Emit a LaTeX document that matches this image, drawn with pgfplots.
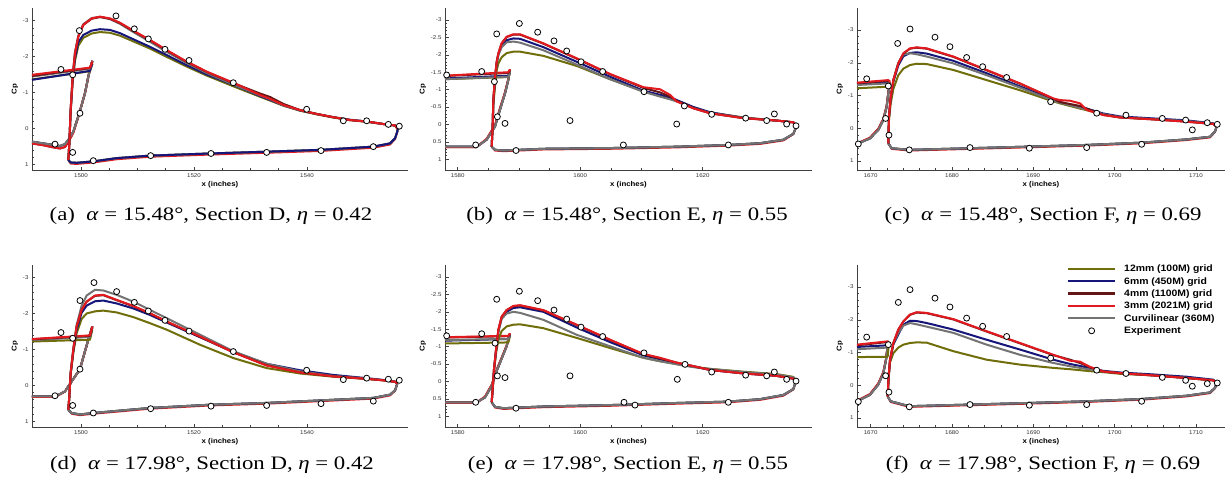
\documentclass[border=0pt]{standalone}
\usepackage{pgfplots}
\pgfplotsset{compat=1.18}
\usepackage{pgfplotstable}
\usepackage{fontspec}
\setmainfont{Liberation Serif}
\newfontfamily\capf[FakeStretch=1.2]{Liberation Serif}
\newfontfamily\sansf[FakeStretch=1.12]{Liberation Sans}
\newcommand\tickf{\sansf\fontsize{5.5}{6}\selectfont}
\newcommand\labf{\sansf\bfseries\fontsize{7}{8}\selectfont}
\newcommand\legf{\sansf\bfseries\fontsize{9.3}{10}\selectfont}
\newcommand\capfs{\capf\fontsize{19}{22}\selectfont}
\definecolor{olc}{RGB}{112,110,10}
\definecolor{blc}{RGB}{22,22,122}
\definecolor{drc}{RGB}{100,22,22}
\definecolor{rec}{RGB}{226,26,32}
\definecolor{grc}{RGB}{115,115,115}

% ---------------- Panel A ----------------
\pgfplotstableread{
x ol bl gr dr re
1497.76 0.88 0.88 0.88 0.88 0.88
1497.94 0.42 0.42 0.42 0.42 0.42
1498.17 -0.45 -0.47 -0.53 -0.51 -0.51
1498.53 -1.30 -1.35 -1.47 -1.44 -1.44
1498.94 -1.88 -1.95 -2.12 -2.09 -2.09
1499.53 -2.30 -2.40 -2.58 -2.55 -2.55
1500.41 -2.52 -2.60 -2.90 -2.88 -2.88
1501.89 -2.64 -2.72 -3.07 -3.05 -3.06
1503.36 -2.68 -2.76 -3.10 -3.10 -3.11
1505.13 -2.66 -2.74 -3.04 -3.05 -3.06
1506.90 -2.58 -2.65 -2.91 -2.93 -2.94
1509.26 -2.42 -2.48 -2.68 -2.71 -2.72
1512.21 -2.22 -2.27 -2.41 -2.45 -2.46
1515.16 -1.99 -2.04 -2.13 -2.17 -2.18
1518.70 -1.72 -1.76 -1.82 -1.85 -1.86
1522.24 -1.47 -1.50 -1.54 -1.57 -1.58
1526.96 -1.17 -1.21 -1.22 -1.26 -1.27
1531.68 -0.88 -0.90 -0.92 -0.97 -0.93
1533.50 -0.77 -0.79 -0.81 -0.87 -0.82
1535.81 -0.63 -0.64 -0.64 -0.68 -0.65
1538.76 -0.49 -0.50 -0.50 -0.51 -0.51
1541.71 -0.39 -0.40 -0.40 -0.40 -0.40
1544.66 -0.30 -0.31 -0.31 -0.31 -0.31
1547.61 -0.23 -0.24 -0.23 -0.23 -0.23
1550.56 -0.18 -0.19 -0.19 -0.19 -0.19
1553.51 -0.12 -0.12 -0.12 -0.12 -0.12
1555.58 -0.08 -0.08 -0.08 -0.08 -0.08
1555.99 0.00 0.00 0.00 0.00 0.00
}\upA
\pgfplotstableread{
x y r
1497.76 0.88 0.88
1498.17 0.95 0.98
1499.23 0.96 0.99
1502.18 0.92 0.95
1506.31 0.83 0.86
1512.21 0.76 0.79
1522.83 0.70 0.73
1532.86 0.65 0.68
1542.30 0.60 0.63
1551.74 0.51 0.54
1554.69 0.42 0.45
1555.58 0.28 0.30
1555.99 0.09 0.09
1556.05 0.00 0.00
}\loA
\pgfplotstableread{
x c1 c2
1491.33 0.37 0.42
1493.33 0.42 0.47
1495.10 0.46 0.53
1496.28 0.49 0.56
1497.17 0.44 0.52
1497.94 0.28 0.33
1498.64 0.09 0.12
1499.71 -0.42 -0.42
1500.71 -0.98 -0.98
1501.30 -1.44 -1.44
1501.71 -1.72 -1.72
1502.01 -1.88 -1.88
}\slA
\pgfplotstableread{
x ol bl gr dr re
1491.33 -1.36 -1.35 -1.44 -1.46 -1.49
1501.59 -1.59 -1.60 -1.66 -1.68 -1.69
1502.01 -1.80 -1.80 -1.85 -1.84 -1.86
}\suA
\pgfplotstableread{
x y
1499.71 -2.72
1506.19 -3.13
1509.44 -2.77
1511.92 -2.49
1514.87 -2.20
1519.12 -1.89
1526.96 -1.27
1539.94 -0.53
1546.43 -0.21
1550.56 -0.21
1554.40 -0.11
1556.34 -0.06
1496.46 -1.64
1498.53 -1.49
1499.82 -0.42
1495.40 0.44
1498.53 0.67
1502.18 0.90
1512.33 0.76
1523.01 0.70
1532.86 0.67
1542.48 0.62
1551.74 0.51
}\exA

% ---------------- Panel B ----------------
\pgfplotstableread{
x ol bl gr dr re
1585.55 0.64 0.64 0.64 0.64 0.64
1585.71 0.10 0.07 0.06 0.06 0.06
1585.82 -0.55 -0.65 -0.70 -0.70 -0.70
1586.10 -1.10 -1.30 -1.35 -1.37 -1.37
1586.37 -1.55 -1.75 -1.78 -1.80 -1.80
1586.64 -1.75 -2.00 -2.00 -2.04 -2.04
1587.18 -1.93 -2.25 -2.22 -2.33 -2.33
1588.00 -2.05 -2.42 -2.36 -2.51 -2.52
1589.09 -2.09 -2.47 -2.38 -2.58 -2.59
1590.18 -2.09 -2.46 -2.35 -2.58 -2.59
1593.99 -1.97 -2.22 -2.13 -2.32 -2.33
1599.43 -1.68 -1.80 -1.72 -1.89 -1.90
1604.87 -1.30 -1.37 -1.30 -1.44 -1.45
1610.31 -0.95 -0.97 -0.94 -1.05 -1.07
1613.03 -0.82 -0.85 -0.80 -0.92 -1.01
1614.67 -0.74 -0.78 -0.72 -0.80 -0.85
1615.76 -0.68 -0.70 -0.66 -0.68 -0.66
1618.48 -0.49 -0.50 -0.47 -0.47 -0.46
1621.20 -0.34 -0.35 -0.33 -0.32 -0.32
1626.64 -0.20 -0.19 -0.19 -0.18 -0.18
1632.08 -0.11 -0.11 -0.11 -0.11 -0.11
1634.80 -0.06 -0.06 -0.06 -0.06 -0.06
1635.35 0.04 0.04 0.04 0.04 0.04
}\upB
\pgfplotstableread{
x y r
1585.55 0.64 0.64
1586.10 0.73 0.75
1587.46 0.75 0.77
1593.99 0.70 0.72
1604.87 0.68 0.70
1615.76 0.64 0.66
1624.19 0.59 0.61
1629.36 0.54 0.56
1633.17 0.44 0.46
1634.80 0.27 0.28
1635.35 0.04 0.04
}\loB
\pgfplotstableread{
x c1 c2
1577.93 0.64 0.65
1583.10 0.64 0.65
1584.73 0.44 0.42
1586.10 0.06 0.02
1586.91 -0.42 -0.46
1587.73 -0.89 -0.92
1588.27 -1.28 -1.30
1588.54 -1.56 -1.58
}\slB
\pgfplotstableread{
x ol bl gr dr re
1577.93 -1.30 -1.32 -1.30 -1.39 -1.40
1588.27 -1.36 -1.40 -1.37 -1.48 -1.50
1588.54 -1.52 -1.52 -1.52 -1.56 -1.58
}\suB
\pgfplotstableread{
x y
1578.20 -1.42
1583.92 -1.52
1585.99 -1.23
1586.37 -2.60
1590.07 -2.90
1593.06 -2.65
1595.73 -2.40
1597.80 -2.11
1600.14 -1.80
1603.67 -1.52
1610.42 -0.94
1617.01 -0.53
1621.47 -0.29
1627.02 -0.18
1630.45 -0.11
1631.70 -0.30
1633.71 -0.01
1635.24 0.04
1586.48 -0.22
1587.73 -0.03
1598.34 -0.11
1615.76 -0.01
1607.05 0.59
1589.52 0.75
1582.94 0.59
1624.19 0.59
}\exB

% ---------------- Panel C ----------------
\pgfplotstableread{
x ol bl gr dr re
1672.17 0.46 0.46 0.46 0.46 0.46
1672.25 -0.25 -0.33 -0.35 -0.35 -0.35
1672.46 -0.75 -0.93 -0.95 -0.96 -0.96
1672.79 -1.20 -1.42 -1.47 -1.47 -1.47
1673.40 -1.62 -1.92 -2.00 -1.98 -1.98
1674.02 -1.82 -2.20 -2.25 -2.28 -2.29
1674.84 -1.93 -2.30 -2.29 -2.43 -2.44
1675.66 -1.97 -2.32 -2.26 -2.46 -2.47
1676.89 -1.96 -2.28 -2.19 -2.43 -2.44
1680.16 -1.78 -2.06 -1.98 -2.18 -2.19
1684.26 -1.47 -1.68 -1.62 -1.77 -1.78
1688.36 -1.16 -1.28 -1.24 -1.36 -1.37
1692.46 -0.82 -0.86 -0.84 -0.90 -0.91
1693.28 -0.76 -0.80 -0.78 -0.80 -0.86
1694.51 -0.68 -0.72 -0.70 -0.74 -0.84
1695.74 -0.60 -0.65 -0.62 -0.68 -0.76
1696.56 -0.55 -0.60 -0.57 -0.60 -0.56
1698.61 -0.42 -0.45 -0.43 -0.41 -0.40
1700.66 -0.33 -0.36 -0.34 -0.33 -0.33
1704.75 -0.28 -0.30 -0.28 -0.27 -0.27
1708.85 -0.22 -0.24 -0.22 -0.20 -0.20
1712.13 -0.14 -0.15 -0.14 -0.13 -0.13
1712.54 -0.05 -0.05 -0.05 -0.05 -0.05
}\upC
\pgfplotstableread{
x y r
1672.17 0.46 0.46
1672.58 0.61 0.63
1674.75 0.66 0.68
1682.21 0.61 0.63
1689.59 0.56 0.58
1696.56 0.51 0.53
1703.32 0.44 0.46
1708.85 0.34 0.36
1711.72 0.26 0.28
1712.34 0.10 0.11
1712.54 -0.05 -0.05
}\loC
\pgfplotstableread{
x c1 c2
1668.32 0.48 0.47
1669.92 0.31 0.29
1670.94 0.05 0.02
1671.56 -0.25 -0.28
1671.97 -0.66 -0.68
1672.17 -1.07 -1.08
1672.38 -1.37 -1.40
}\slC
\pgfplotstableread{
x ol bl gr dr re
1668.32 -1.22 -1.35 -1.32 -1.38 -1.39
1672.17 -1.27 -1.40 -1.37 -1.45 -1.47
1672.38 -1.37 -1.40 -1.40 -1.42 -1.42
}\suC
\pgfplotstableread{
x y
1669.51 -1.51
1672.17 -1.29
1673.32 -2.59
1674.84 -3.03
1677.91 -2.78
1679.75 -2.49
1681.80 -2.16
1683.77 -1.88
1686.72 -1.55
1692.13 -0.81
1697.79 -0.46
1701.39 -0.40
1705.86 -0.30
1708.73 -0.25
1709.55 0.05
1711.39 -0.17
1712.62 -0.12
1671.84 -0.30
1672.25 0.21
1668.48 0.48
1674.75 0.66
1682.21 0.59
1689.51 0.61
1696.56 0.59
1703.32 0.49
}\exC

% ---------------- Panel D ----------------
\pgfplotstableread{
x ol bl gr dr re
1497.76 0.68 0.68 0.68 0.68 0.68
1497.94 0.31 0.31 0.31 0.31 0.31
1498.17 -0.30 -0.32 -0.35 -0.34 -0.34
1498.64 -0.90 -0.95 -1.02 -0.99 -0.99
1499.23 -1.45 -1.55 -1.68 -1.64 -1.64
1500.12 -1.85 -2.02 -2.22 -2.10 -2.10
1501.00 -2.00 -2.22 -2.50 -2.33 -2.33
1502.48 -2.06 -2.34 -2.66 -2.49 -2.50
1503.95 -2.08 -2.36 -2.64 -2.51 -2.52
1506.31 -2.03 -2.28 -2.52 -2.37 -2.38
1509.26 -1.90 -2.14 -2.33 -2.20 -2.21
1512.21 -1.73 -1.96 -2.10 -2.00 -2.01
1515.16 -1.55 -1.75 -1.87 -1.77 -1.78
1521.06 -1.13 -1.34 -1.41 -1.35 -1.36
1526.96 -0.76 -0.93 -0.95 -0.92 -0.92
1532.86 -0.48 -0.60 -0.60 -0.56 -0.55
1538.76 -0.33 -0.42 -0.39 -0.36 -0.36
1544.66 -0.24 -0.29 -0.26 -0.25 -0.25
1550.56 -0.18 -0.20 -0.19 -0.18 -0.18
1553.51 -0.14 -0.15 -0.14 -0.14 -0.14
1555.58 -0.10 -0.10 -0.10 -0.10 -0.10
1555.99 -0.05 -0.05 -0.05 -0.05 -0.05
}\upD
\pgfplotstableread{
x y r
1497.76 0.68 0.68
1498.35 0.77 0.79
1499.82 0.81 0.83
1502.18 0.77 0.79
1512.21 0.63 0.65
1522.83 0.54 0.56
1532.86 0.49 0.51
1542.30 0.42 0.44
1551.74 0.35 0.37
1554.69 0.26 0.28
1555.58 0.14 0.15
1555.99 -0.05 -0.05
}\loD
\pgfplotstableread{
x c1 c2
1491.33 0.31 0.32
1494.51 0.31 0.32
1495.69 0.29 0.30
1497.17 0.17 0.17
1498.35 -0.11 -0.11
1499.82 -0.45 -0.45
1500.71 -0.95 -0.95
1501.47 -1.36 -1.36
1502.01 -1.64 -1.64
}\slD
\pgfplotstableread{
x ol bl gr dr re
1491.33 -1.22 -1.27 -1.26 -1.28 -1.29
1501.59 -1.27 -1.36 -1.35 -1.38 -1.39
1502.01 -1.55 -1.60 -1.62 -1.62 -1.64
}\suD
\pgfplotstableread{
x y
1496.46 -1.47
1498.53 -1.31
1499.82 -2.36
1502.30 -2.86
1506.31 -2.61
1509.44 -2.31
1511.92 -2.07
1514.87 -1.81
1519.12 -1.51
1526.96 -0.94
1539.94 -0.42
1546.43 -0.16
1550.56 -0.20
1554.40 -0.17
1556.34 -0.14
1495.40 0.29
1499.82 -0.45
1498.53 0.56
1502.18 0.77
1512.33 0.65
1523.01 0.58
1532.86 0.56
1542.48 0.51
1551.74 0.44
}\exD

% ---------------- Panel E ----------------
\pgfplotstableread{
x ol bl gr dr re
1585.55 0.60 0.60 0.60 0.60 0.60
1585.71 0.25 0.23 0.22 0.22 0.22
1585.93 -0.30 -0.33 -0.33 -0.35 -0.35
1586.26 -0.80 -0.88 -0.88 -0.91 -0.91
1586.64 -1.20 -1.44 -1.42 -1.48 -1.48
1587.18 -1.45 -1.82 -1.80 -1.86 -1.86
1588.00 -1.58 -2.00 -1.95 -2.05 -2.05
1589.09 -1.63 -2.11 -2.00 -2.16 -2.17
1590.18 -1.64 -2.13 -1.97 -2.18 -2.19
1593.99 -1.53 -2.00 -1.77 -2.04 -2.05
1599.43 -1.25 -1.55 -1.34 -1.62 -1.63
1604.87 -0.96 -1.13 -1.01 -1.19 -1.20
1610.31 -0.68 -0.75 -0.68 -0.78 -0.79
1613.03 -0.58 -0.64 -0.58 -0.66 -0.68
1615.76 -0.50 -0.52 -0.49 -0.54 -0.54
1618.48 -0.42 -0.43 -0.41 -0.44 -0.44
1621.20 -0.36 -0.33 -0.36 -0.33 -0.33
1626.64 -0.28 -0.23 -0.27 -0.23 -0.23
1632.08 -0.21 -0.16 -0.20 -0.16 -0.16
1634.80 -0.13 -0.08 -0.12 -0.08 -0.08
1635.24 -0.01 -0.01 -0.01 -0.01 -0.01
}\upE
\pgfplotstableread{
x y r
1585.55 0.60 0.60
1586.10 0.73 0.75
1587.46 0.77 0.79
1593.99 0.72 0.74
1604.87 0.68 0.70
1615.76 0.62 0.64
1624.19 0.58 0.60
1629.36 0.51 0.53
1633.17 0.39 0.41
1634.80 0.22 0.23
1635.24 -0.01 -0.01
}\loE
\pgfplotstableread{
x c1 c2
1577.93 0.60 0.61
1583.10 0.60 0.61
1584.46 0.46 0.44
1585.55 0.13 0.10
1586.48 -0.35 -0.38
1587.35 -0.73 -0.75
1588.00 -1.01 -1.03
1588.44 -1.31 -1.33
1588.54 -1.36 -1.38
}\slE
\pgfplotstableread{
x ol bl gr dr re
1577.93 -1.09 -1.17 -1.19 -1.26 -1.27
1588.27 -1.12 -1.22 -1.22 -1.30 -1.31
1588.54 -1.30 -1.32 -1.32 -1.36 -1.38
}\suE
\pgfplotstableread{
x y
1578.20 -1.31
1583.92 -1.37
1586.10 -1.10
1586.37 -2.36
1590.07 -2.59
1593.06 -2.32
1595.73 -2.05
1597.80 -1.79
1600.14 -1.56
1603.67 -1.29
1610.42 -0.82
1617.12 -0.49
1621.47 -0.27
1627.02 -0.18
1630.45 -0.16
1631.70 -0.27
1633.71 -0.06
1635.24 -0.01
1586.48 -0.16
1587.73 -0.11
1598.34 -0.16
1615.86 -0.06
1582.94 0.60
1589.52 0.77
1607.16 0.60
1608.95 0.68
1624.19 0.60
}\exE

% ---------------- Panel F ----------------
\pgfplotstableread{
x ol bl gr dr re
1672.09 0.34 0.34 0.34 0.34 0.34
1672.21 -0.20 -0.27 -0.27 -0.27 -0.27
1672.38 -0.70 -0.76 -0.76 -0.78 -0.78
1672.79 -0.98 -1.25 -1.28 -1.29 -1.29
1673.40 -1.15 -1.55 -1.60 -1.70 -1.70
1674.02 -1.24 -1.85 -1.82 -1.95 -1.95
1674.84 -1.29 -1.97 -1.90 -2.15 -2.16
1675.66 -1.31 -1.96 -1.86 -2.22 -2.23
1676.89 -1.30 -1.90 -1.79 -2.20 -2.21
1680.16 -1.04 -1.70 -1.60 -2.01 -2.02
1684.26 -0.78 -1.39 -1.24 -1.64 -1.65
1688.36 -0.63 -1.09 -0.93 -1.28 -1.29
1692.46 -0.53 -0.78 -0.68 -0.92 -0.93
1694.51 -0.49 -0.65 -0.58 -0.78 -0.75
1695.74 -0.46 -0.59 -0.53 -0.68 -0.72
1696.97 -0.43 -0.52 -0.48 -0.55 -0.56
1698.61 -0.40 -0.44 -0.42 -0.42 -0.42
1700.66 -0.35 -0.39 -0.37 -0.37 -0.37
1704.75 -0.30 -0.33 -0.30 -0.30 -0.30
1708.85 -0.22 -0.26 -0.23 -0.22 -0.22
1712.13 -0.15 -0.17 -0.15 -0.15 -0.15
1712.54 -0.07 -0.07 -0.07 -0.07 -0.07
}\upF
\pgfplotstableread{
x y r
1672.09 0.34 0.34
1672.46 0.49 0.51
1674.75 0.64 0.66
1682.21 0.59 0.61
1689.59 0.54 0.56
1696.56 0.49 0.51
1703.32 0.42 0.44
1708.85 0.32 0.34
1711.72 0.22 0.24
1712.34 0.08 0.09
1712.54 -0.07 -0.07
}\loF
\pgfplotstableread{
x c1 c2
1668.32 0.49 0.48
1669.92 0.29 0.27
1670.94 -0.02 -0.05
1671.56 -0.37 -0.40
1671.89 -0.78 -0.80
1672.09 -1.19 -1.20
1672.25 -1.29 -1.31
}\slF
\pgfplotstableread{
x ol bl gr dr re
1668.32 -0.86 -1.17 -1.10 -1.22 -1.24
1672.09 -0.87 -1.22 -1.15 -1.32 -1.34
1672.25 -1.29 -1.29 -1.29 -1.31 -1.31
}\suF
\pgfplotstableread{
x y
1669.51 -1.47
1672.17 -1.24
1673.40 -2.53
1674.84 -2.92
1677.91 -2.66
1679.75 -2.39
1681.80 -2.05
1683.77 -1.80
1686.72 -1.49
1692.13 -0.83
1697.79 -0.46
1701.39 -0.36
1705.86 -0.24
1708.73 -0.15
1709.55 0.03
1711.39 -0.05
1712.62 -0.07
1671.84 -0.29
1672.25 0.21
1668.48 0.50
1674.75 0.66
1682.21 0.59
1689.51 0.61
1696.56 0.59
1703.32 0.49
}\exF

\pgfplotsset{
  cv/.style={line width=2pt, line join=round, forget plot},
  expm/.style={only marks, mark=*, mark size=3pt, mark options={fill=white, draw=black, line width=0.8pt}, forget plot},
  panel/.style={scale only axis, height=162pt, anchor=south west, y dir=reverse,
    axis x line*=bottom, axis y line*=left,
    axis line style={line width=0.7pt, black!75},
    tick align=inside, major tick length=3.5pt, minor tick length=2pt,
    every tick/.style={black!75, line width=0.5pt},
    tick label style={font=\tickf, black!80},
    /pgf/number format/assume math mode=true,
    /pgf/number format/1000 sep={},
    xlabel={x (inches)}, ylabel={Cp},
    label style={font=\labf},
    xlabel style={yshift=3pt}, ylabel style={yshift=-2pt},
    clip=false},
  secD/.style={panel, width=376pt, xmin=1491.33, xmax=1557.88, ymin=-3.35, ymax=1.16,
    xtick={1500,1520,1540}, ytick={-3,-2,-1,0,1}, minor x tick num=3, minor y tick num=4},
  secE/.style={panel, width=367pt, xmin=1577.93, xmax=1637.85, ymin=-3.345, ymax=1.31,
    xtick={1580,1600,1620}, ytick={-3,-2.5,-2,-1.5,-1,-0.5,0,0.5,1}, minor x tick num=3, minor y tick num=4},
  secF/.style={panel, width=368pt, xmin=1668.32, xmax=1713.57, ymin=-3.672, ymax=1.275,
    xtick={1670,1680,1690,1700,1710}, ytick={-3,-2,-1,0,1}, minor x tick num=4, minor y tick num=4},
}

% #1 upper, #2 lower, #3 slat lower, #4 slat upper, #5 exp, #6/#7 order of top lower-surface lines
\newcommand\drawpanel[7]{%
  \addplot[cv,olc] table[y=c1]{#3};
  \addplot[cv,blc] table[y=c1]{#3};
  \addplot[cv,drc] table[y=c2]{#3};
  \addplot[cv,rec] table[y=c2]{#3};
  \addplot[cv,grc] table[y=c1]{#3};
  \addplot[cv,olc] table[y=ol]{#4};
  \addplot[cv,blc] table[y=bl]{#4};
  \addplot[cv,grc] table[y=gr]{#4};
  \addplot[cv,drc] table[y=dr]{#4};
  \addplot[cv,rec] table[y=re]{#4};
  \addplot[cv,rec] table[y=r]{#2};
  \addplot[cv,olc] table[y=y]{#2};
  \addplot[cv,#6] table[y=y]{#2};
  \addplot[cv,#7] table[y=y]{#2};
  \addplot[cv,olc] table[y=ol]{#1};
  \addplot[cv,blc] table[y=bl]{#1};
  \addplot[cv,grc] table[y=gr]{#1};
  \addplot[cv,drc] table[y=dr]{#1};
  \addplot[cv,rec] table[y=re]{#1};
  \addplot[expm] table[x=x,y=y]{#5};
}

\begin{document}
\begin{tikzpicture}
\useasboundingbox (0,0) rectangle (1227pt,483pt);

\begin{axis}[secD, at={(32pt,313pt)}]
\drawpanel{\upA}{\loA}{\slA}{\suA}{\exA}{grc}{blc}
\end{axis}
\begin{axis}[secE, at={(445pt,313pt)}]
\drawpanel{\upB}{\loB}{\slB}{\suB}{\exB}{blc}{grc}
\end{axis}
\begin{axis}[secF, at={(857pt,313pt)}]
\drawpanel{\upC}{\loC}{\slC}{\suC}{\exC}{blc}{grc}
\end{axis}

\begin{axis}[secD, at={(32pt,56pt)}]
\drawpanel{\upD}{\loD}{\slD}{\suD}{\exD}{blc}{grc}
\end{axis}
\begin{axis}[secE, at={(445pt,56pt)}]
\drawpanel{\upE}{\loE}{\slE}{\suE}{\exE}{blc}{grc}
\end{axis}
\begin{axis}[secF, at={(857pt,56pt)},
  legend style={at={(0.5707,1.0074)}, anchor=north west, draw=none, fill=none,
    inner sep=0pt, outer sep=0pt, font=\legf, row sep=1.3pt,
    nodes={inner sep=1pt, text height=7pt, text depth=2pt},
    /tikz/every odd column/.append style={column sep=7pt}},
  legend cell align=left]
\addlegendimage{legend image code/.code={\draw[draw=olc, line width=2.2pt] (0pt,0.5pt) -- (47pt,0.5pt);}}\addlegendentry{12mm (100M) grid}
\addlegendimage{legend image code/.code={\draw[draw=blc, line width=2.2pt] (0pt,0.5pt) -- (47pt,0.5pt);}}\addlegendentry{6mm (450M) grid}
\addlegendimage{legend image code/.code={\draw[draw=drc, line width=2.2pt] (0pt,0.5pt) -- (47pt,0.5pt);}}\addlegendentry{4mm (1100M) grid}
\addlegendimage{legend image code/.code={\draw[draw=rec, line width=2.2pt] (0pt,0.5pt) -- (47pt,0.5pt);}}\addlegendentry{3mm (2021M) grid}
\addlegendimage{legend image code/.code={\draw[draw=grc, line width=2.2pt] (0pt,0.5pt) -- (47pt,0.5pt);}}\addlegendentry{Curvilinear (360M)}
\addlegendimage{legend image code/.code={\draw[black, fill=white, line width=0.8pt] (23.5pt,0pt) circle[radius=3pt];}}\addlegendentry{Experiment}
\drawpanel{\upF}{\loF}{\slF}{\suF}{\exF}{blc}{grc}
\end{axis}

\node[font=\capfs, anchor=base, inner sep=0pt] at (211pt,262pt) {(a)\hspace{0.6em}\textit{α} = 15.48°, Section D, \textit{η} = 0.42};
\node[font=\capfs, anchor=base, inner sep=0pt] at (627pt,262pt) {(b)\hspace{0.6em}\textit{α} = 15.48°, Section E, \textit{η} = 0.55};
\node[font=\capfs, anchor=base, inner sep=0pt] at (1043pt,262pt) {(c)\hspace{0.6em}\textit{α} = 15.48°, Section F, \textit{η} = 0.69};
\node[font=\capfs, anchor=base, inner sep=0pt] at (212pt,14pt) {(d)\hspace{0.6em}\textit{α} = 17.98°, Section D, \textit{η} = 0.42};
\node[font=\capfs, anchor=base, inner sep=0pt] at (628pt,14pt) {(e)\hspace{0.6em}\textit{α} = 17.98°, Section E, \textit{η} = 0.55};
\node[font=\capfs, anchor=base, inner sep=0pt] at (1043pt,14pt) {(f)\hspace{0.6em}\textit{α} = 17.98°, Section F, \textit{η} = 0.69};
\end{tikzpicture}
\end{document}
